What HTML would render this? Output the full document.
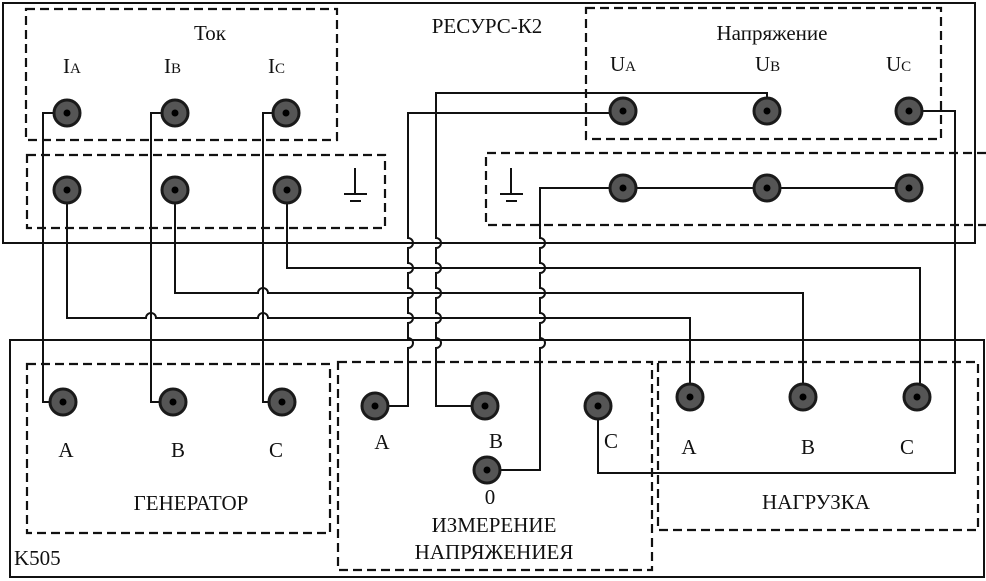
<!DOCTYPE html>
<html><head><meta charset="utf-8"><style>
html,body{margin:0;padding:0;background:#fff;}
svg{display:block;}
text{font-family:"Liberation Serif",serif;fill:#111;}
</style></head><body>
<svg width="986" height="581" viewBox="0 0 986 581" xmlns="http://www.w3.org/2000/svg">
<defs>
<g id="t"><circle r="13" fill="#555" stroke="#1a1a1a" stroke-width="3"/><circle r="3.5" fill="#000"/></g>
</defs>
<g fill="none" stroke="#111" stroke-width="2">
<rect x="3" y="3" width="972" height="240"/>
<rect x="10" y="340" width="974" height="237"/>
</g>
<g fill="none" stroke="#111" stroke-width="2.2" stroke-dasharray="9,5">
<rect x="26" y="9" width="311" height="131"/>
<rect x="27" y="155" width="358" height="73"/>
<rect x="586" y="8" width="355" height="131"/>
<path d="M986 153 H486 V225 H986"/>
<rect x="27" y="364" width="303" height="169"/>
<rect x="338" y="362" width="314" height="208"/>
<rect x="658" y="362" width="320" height="168"/>
</g>
<g stroke="#111" stroke-width="2">
<path d="M355 168 V194 M344 194 H367 M350 201 H361"/>
<path d="M511 168 V194 M500 194 H523 M506 201 H517"/>
</g>
<g fill="none" stroke="#111" stroke-width="2">
<path d="M67 113 H43 V402 H63"/>
<path d="M175 113 H151 V402 H173"/>
<path d="M286 113 H263 V402 H282"/>
<path d="M67 190 V318 H146 A5 5 0 0 1 156 318 H258 A5 5 0 0 1 268 318 H690 V397"/>
<path d="M175 190 V293 H258 A5 5 0 0 1 268 293 H803 V397"/>
<path d="M287 190 V268 H920 V397"/>
<path d="M375 406 H408 V348 A5 5 0 0 0 408 338 V323 A5 5 0 0 0 408 313 V298 A5 5 0 0 0 408 288 V273 A5 5 0 0 0 408 263 V248 A5 5 0 0 0 408 238 V113 H623"/>
<path d="M485 406 H436 V348 A5 5 0 0 0 436 338 V323 A5 5 0 0 0 436 313 V298 A5 5 0 0 0 436 288 V273 A5 5 0 0 0 436 263 V248 A5 5 0 0 0 436 238 V93 H767 V111"/>
<path d="M487 470 H540 V348 A5 5 0 0 0 540 338 V323 A5 5 0 0 0 540 313 V298 A5 5 0 0 0 540 288 V273 A5 5 0 0 0 540 263 V248 A5 5 0 0 0 540 238 V188 H909"/>
<path d="M598 406 V473 H955 V111 H909"/>
</g>
<use href="#t" x="67" y="113"/><use href="#t" x="175" y="113"/><use href="#t" x="286" y="113"/>
<use href="#t" x="67" y="190"/><use href="#t" x="175" y="190"/><use href="#t" x="287" y="190"/>
<use href="#t" x="623" y="111"/><use href="#t" x="767" y="111"/><use href="#t" x="909" y="111"/>
<use href="#t" x="623" y="188"/><use href="#t" x="767" y="188"/><use href="#t" x="909" y="188"/>
<use href="#t" x="63" y="402"/><use href="#t" x="173" y="402"/><use href="#t" x="282" y="402"/>
<use href="#t" x="375" y="406"/><use href="#t" x="485" y="406"/><use href="#t" x="598" y="406"/>
<use href="#t" x="487" y="470"/>
<use href="#t" x="690" y="397"/><use href="#t" x="803" y="397"/><use href="#t" x="917" y="397"/>
<g font-size="21">
<text x="210" y="40" text-anchor="middle">Ток</text>
<text x="487" y="33" text-anchor="middle">РЕСУРС-К2</text>
<text x="772" y="40" text-anchor="middle">Напряжение</text>
<text x="63" y="73">I<tspan font-size="15">A</tspan></text>
<text x="164" y="73">I<tspan font-size="15">B</tspan></text>
<text x="268" y="73">I<tspan font-size="15">C</tspan></text>
<text x="610" y="71">U<tspan font-size="15">A</tspan></text>
<text x="755" y="71">U<tspan font-size="15">B</tspan></text>
<text x="886" y="71">U<tspan font-size="15">C</tspan></text>
<text x="66" y="457" text-anchor="middle">A</text>
<text x="178" y="457" text-anchor="middle">B</text>
<text x="276" y="457" text-anchor="middle">C</text>
<text x="191" y="510" text-anchor="middle">ГЕНЕРАТОР</text>
<text x="382" y="449" text-anchor="middle">A</text>
<text x="496" y="448" text-anchor="middle">B</text>
<text x="611" y="448" text-anchor="middle">C</text>
<text x="490" y="504" text-anchor="middle">0</text>
<text x="494" y="532" text-anchor="middle">ИЗМЕРЕНИЕ</text>
<text x="494" y="559" text-anchor="middle">НАПРЯЖЕНИЕЯ</text>
<text x="689" y="454" text-anchor="middle">A</text>
<text x="808" y="454" text-anchor="middle">B</text>
<text x="907" y="454" text-anchor="middle">C</text>
<text x="816" y="509" text-anchor="middle">НАГРУЗКА</text>
<text x="14" y="565">K505</text>
</g>
</svg>
</body></html>
